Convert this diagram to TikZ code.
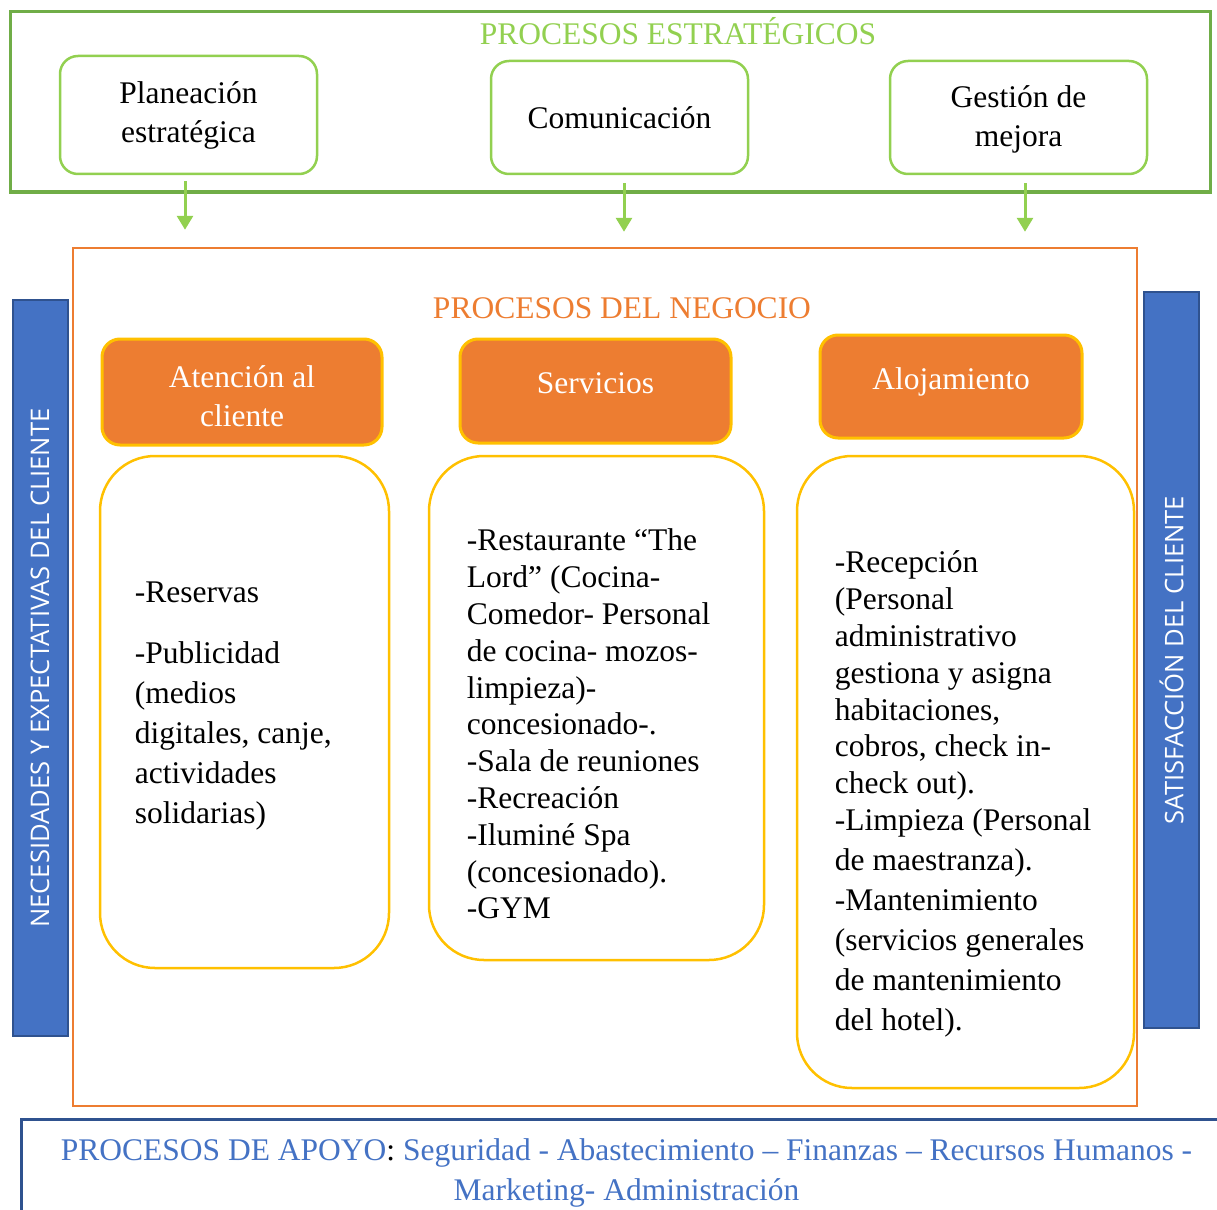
\documentclass[tikz,border=0pt]{standalone}
\usepackage{fontspec}
\setmainfont{Liberation Serif}
\newfontfamily\barfont{Open Sans}
\usepackage{xcolor}
\usepackage{tikz}
\usetikzlibrary{positioning, arrows.meta}
\definecolor{verde}{HTML}{70AD47}
\definecolor{verdeclaro}{HTML}{92D050}
\definecolor{naranja}{HTML}{ED7D31}
\definecolor{amarillo}{HTML}{FFC000}
\definecolor{azul}{HTML}{4472C4}
\definecolor{azulborde}{HTML}{2F528F}

\begin{document}
\begin{tikzpicture}[x=1pt, y=-1pt,
    every node/.style={font=\fontsize{31.5}{39}\selectfont},
    cajaverde/.style={draw=verdeclaro, line width=2.5pt, rounded corners=18pt, align=center, minimum width=257pt, minimum height=113pt},
    cajanaranja/.style={draw=amarillo, fill=naranja, line width=3pt, rounded corners=18pt, text=white, align=center},
    arriba/.style={text height=0.7em, text depth=0.2em},
    cajalista/.style={draw=amarillo, line width=2.5pt, rounded corners=55pt},
    lista/.style={align=left, anchor=north west, inner sep=0pt},
    barra/.style={draw=azulborde, fill=azul, line width=2pt, rotate=90, minimum width=736pt, minimum height=55pt, text=white, font=\barfont\fontsize{25.6}{30}\selectfont},
    flecha/.style={draw=verdeclaro, line width=3pt, -{Triangle[width=16pt, length=14pt]}}]
    \useasboundingbox (0,0) rectangle (1217,1209);

    \node[draw=verde, line width=3pt, minimum width=1200pt, minimum height=180pt] (estrategicos) at (610,102) {};
    \node[text=verdeclaro] (titest) at (678,31) {PROCESOS ESTRATÉGICOS};
    \node[cajaverde, minimum height=118pt] (plan) at (188.5,115) {Planeación\\estratégica};
    \node[cajaverde] (comun) at (619.5,117.5) {Comunicación};
    \node[cajaverde, text depth=2pt] (mejora) at (1018.5,117.5) {Gestión de\\mejora};

    \node[draw=naranja, line width=2.5pt, minimum width=1064pt, minimum height=858pt] (negocio) at (605,677) {};
    \node[text=naranja] (titneg) at (622,308) {PROCESOS DEL NEGOCIO};
    \node[cajanaranja, text height=68pt, text depth=0pt, minimum width=280pt, minimum height=106pt] (atencion) at (242,392) {Atención al\\cliente};
    \node[cajanaranja, arriba, minimum width=271pt, minimum height=104pt] (servicios) at (595.5,391) {Servicios};
    \node[cajanaranja, arriba, minimum width=262pt, minimum height=103pt] (alojamiento) at (951,386.5) {Alojamiento};

    \node[cajalista, minimum width=289pt, minimum height=512pt] (c1) at (244.5,712) {};
    \node[cajalista, minimum width=335pt, minimum height=504pt] (c2) at (596.5,708) {};
    \node[cajalista, minimum width=337pt, minimum height=632pt] (c3) at (965.5,772) {};

    \node[lista, font=\fontsize{31.5}{40}\selectfont, below right=127pt and 36pt of c1.north west] (l1)
        {-Reservas\\[21pt]-Publicidad\\(medios\\digitales, canje,\\actividades\\solidarias)};
    \node[lista, font=\fontsize{31.5}{36.8}\selectfont, below right=74pt and 39pt of c2.north west] (l2)
        {-Restaurante “The\\Lord” (Cocina-\\Comedor- Personal\\de cocina- mozos-\\limpieza)-\\concesionado-.\\-Sala de reuniones\\-Recreación\\-Iluminé Spa\\(concesionado).\\-GYM};
    \node[lista, font=\fontsize{31.5}{36.8}\selectfont, below right=96pt and 39pt of c3.north west] (l3)
        {-Recepción\\(Personal\\administrativo\\gestiona y asigna\\habitaciones,\\cobros, check in-\\check out).\\-Limpieza (Personal\\[3.2pt]de maestranza).\\[3.2pt]-Mantenimiento\\[3.2pt](servicios generales\\[3.2pt]de mantenimiento\\[3.2pt]del hotel).};

    \node[barra] (necesidades) at (40,668) {NECESIDADES Y EXPECTATIVAS DEL CLIENTE};
    \node[barra] (satisfaccion) at (1171.5,660) {SATISFACCIÓN DEL CLIENTE};

    \node[draw=azulborde, line width=3pt, anchor=north west, minimum width=1210pt, inner ysep=19.5pt, align=center, text=azul, font=\fontsize{31.5}{40}\selectfont] (apoyo) at (20,1118)
        {PROCESOS DE APOYO{\color{black}:} Seguridad - Abastecimiento – Finanzas – Recursos Humanos -\\Marketing- Administración};

    \draw[flecha, shorten <=6pt, shorten >=17pt] ([xshift=-3.5pt]plan.south) -- ([xshift=-3.5pt]plan.south |- negocio.north);
    \draw[flecha, shorten <=8pt, shorten >=15pt] ([xshift=4.5pt]comun.south) -- ([xshift=4.5pt]comun.south |- negocio.north);
    \draw[flecha, shorten <=8pt, shorten >=15pt] ([xshift=6.5pt]mejora.south) -- ([xshift=6.5pt]mejora.south |- negocio.north);
\end{tikzpicture}
\end{document}
